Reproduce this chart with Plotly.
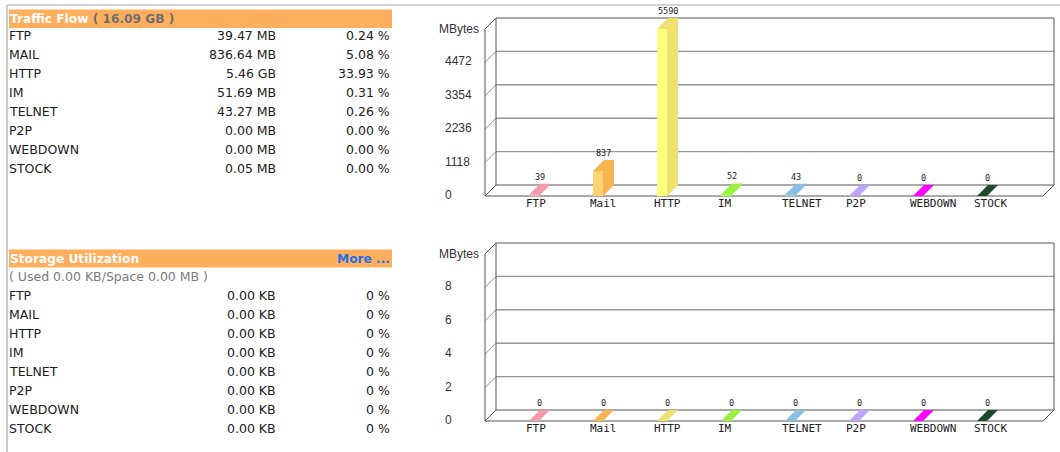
import plotly.graph_objects as go

# ---------------- data ----------------
categories = ["FTP", "Mail", "HTTP", "IM", "TELNET", "P2P", "WEBDOWN", "STOCK"]
row_names = ["FTP", "MAIL", "HTTP", "IM", "TELNET", "P2P", "WEBDOWN", "STOCK"]

traffic_total = "16.09 GB"
traffic_size = ["39.47 MB", "836.64 MB", "5.46 GB", "51.69 MB",
                "43.27 MB", "0.00 MB", "0.00 MB", "0.05 MB"]
traffic_share = ["0.24 %", "5.08 %", "33.93 %", "0.31 %",
                 "0.26 %", "0.00 %", "0.00 %", "0.00 %"]
traffic_mbytes = [39, 837, 5590, 52, 43, 0, 0, 0]
traffic_ticks = [0, 1118, 2236, 3354, 4472]
traffic_axis_top = 5590

storage_summary = "( Used 0.00 KB/Space 0.00 MB )"
storage_size = ["0.00 KB", "0.00 KB", "0.00 KB", "0.00 KB",
                "0.00 KB", "0.00 KB", "0.00 KB", "0.00 KB"]
storage_share = ["0 %", "0 %", "0 %", "0 %", "0 %", "0 %", "0 %", "0 %"]
storage_mbytes = [0, 0, 0, 0, 0, 0, 0, 0]
storage_ticks = [0, 2, 4, 6, 8]
storage_axis_top = 10

# ---------------- styling ----------------
FRONT_COLORS = ["#ffb8c6", "#ffd470", "#ffff80", "#b6ff6c",
                "#a8d4ee", "#d2bcff", "#ff40ff", "#2e6040"]
TOP_COLORS = ["#f59aab", "#f8b450", "#efe070", "#99f040",
              "#88c0e4", "#bfa3f8", "#ff00ff", "#1c4a2c"]

W, H = 1060, 452
CAT0_PX, CAT_STEP = 534, 64          # first category centre, spacing (px)
BAR_PX, DEPTH, PLOT_PX = 10, 11, 167  # bar width, 3-D depth, value height (px)
FRONT_LEFT_PX, BACK_RIGHT_PX = 485, 1054
PAD = 6

TEXT = "#202020"
AXIS_TEXT = "#333333"
GRID = "#959595"
FRAME = "#555555"
HEADER = "#ffae5e"

TABLE_FONT = "DejaVu Sans"
MONO = "DejaVu Sans Mono"
AXIS_FONT = "Liberation Sans"


def fx(px):
    return px / W


def fy(py):
    return 1 - py / H


fig = go.Figure()
shapes = []
annotations = []


def note(text, x, y, xref="paper", yref="paper", **kw):
    annotations.append(dict(text=text, x=x, y=y, xref=xref, yref=yref,
                            showarrow=False, **kw))


def seg(x0, y0, x1, y1, xref, yref, color, width=1):
    shapes.append(dict(type="line", x0=x0, y0=y0, x1=x1, y1=y1,
                       xref=xref, yref=yref, layer="below",
                       line=dict(color=color, width=width)))


def panel(n, floor_px, values, ticks, axis_top, label_px):
    xa = "x" if n == 1 else f"x{n}"
    ya = "y" if n == 1 else f"y{n}"

    def xd(px):
        return (px - CAT0_PX) / CAT_STEP

    def yd(py):
        return (floor_px - py) * axis_top / PLOT_PX

    dxu = DEPTH / CAT_STEP
    dyu = DEPTH * axis_top / PLOT_PX
    half = BAR_PX / CAT_STEP / 2
    xl = xd(FRONT_LEFT_PX)
    xr = xd(BACK_RIGHT_PX)
    top_px = floor_px - PLOT_PX - DEPTH - PAD

    fig.layout["xaxis" if n == 1 else f"xaxis{n}"] = dict(
        domain=[fx(FRONT_LEFT_PX - PAD), fx(BACK_RIGHT_PX + PAD)],
        range=[xd(FRONT_LEFT_PX - PAD), xd(BACK_RIGHT_PX + PAD)],
        visible=False, anchor=ya, fixedrange=True)
    fig.layout["yaxis" if n == 1 else f"yaxis{n}"] = dict(
        domain=[fy(floor_px + PAD), fy(top_px)],
        range=[yd(floor_px + PAD), yd(top_px)],
        visible=False, anchor=xa, fixedrange=True)

    # back-wall grid and left-wall diagonals
    for t in ticks[1:]:
        seg(xl + dxu, t + dyu, xr, t + dyu, xa, ya, GRID, 1.4)
        seg(xl, t, xl + dxu, t + dyu, xa, ya, GRID, 1)
    # box outline
    seg(xl, 0, xl, axis_top, xa, ya, FRAME)
    seg(xl, axis_top, xl + dxu, axis_top + dyu, xa, ya, FRAME)
    seg(xl, 0, xl + dxu, dyu, xa, ya, FRAME)
    seg(xl + dxu, dyu, xl + dxu, axis_top + dyu, xa, ya, FRAME)
    seg(xl + dxu, axis_top + dyu, xr, axis_top + dyu, xa, ya, FRAME)
    seg(xr, dyu, xr, axis_top + dyu, xa, ya, FRAME)
    seg(xl + dxu, dyu, xr, dyu, xa, ya, FRAME)
    seg(xl, 0, xr - dxu, 0, xa, ya, FRAME)
    seg(xr - dxu, 0, xr, dyu, xa, ya, FRAME)

    # top + side faces of each bar
    for i, v in enumerate(values):
        a, b = i - half, i + half
        fig.add_trace(go.Scatter(
            x=[a, a + dxu, b + dxu, b + dxu, b, b, a],
            y=[v, v + dyu, v + dyu, dyu, 0, v, v],
            mode="lines", fill="toself", fillcolor=TOP_COLORS[i],
            line=dict(width=0, color=TOP_COLORS[i]),
            xaxis=xa, yaxis=ya, hoverinfo="skip", showlegend=False))
        note(str(v), i + dxu / 2, v + dyu, xa, ya, yanchor="bottom",
             xanchor="center", yshift=0,
             font=dict(family=MONO, size=8.5, color=TEXT))
        note(categories[i], a - 5 / CAT_STEP, 0, xa, ya, xanchor="left",
             yanchor="middle", yshift=-(label_px - floor_px),
             font=dict(family=MONO, size=11, color=TEXT))

    # front faces
    fig.add_trace(go.Bar(
        x=list(range(len(values))), y=values, width=BAR_PX / CAT_STEP,
        marker=dict(color=FRONT_COLORS, line=dict(width=0)),
        xaxis=xa, yaxis=ya, hoverinfo="skip", showlegend=False))

    # value axis labels
    for t in ticks:
        note(str(t), fx(443), t, "paper", ya, xanchor="left",
             yanchor="middle", yshift=1,
             font=dict(family=AXIS_FONT, size=12, color=AXIS_TEXT))
    note("MBytes", fx(437), axis_top, "paper", ya, xanchor="left",
         yanchor="middle", yshift=0,
         font=dict(family=AXIS_FONT, size=12, color=AXIS_TEXT))


def table(header_top_px, header_bot_px, title_html, row0_px, sizes, shares,
          extra=None):
    shapes.append(dict(type="rect", xref="paper", yref="paper",
                       x0=fx(9), x1=fx(392), y0=fy(header_bot_px),
                       y1=fy(header_top_px), fillcolor=HEADER,
                       line=dict(width=0), layer="below"))
    mid = (header_top_px + header_bot_px) / 2
    note(title_html, fx(8), fy(mid), xanchor="left", yanchor="middle",
         font=dict(family=TABLE_FONT, size=12.2, color="#ffffff"))
    if extra:
        extra(mid)
    for i, name in enumerate(row_names):
        yy = fy(row0_px + 19 * i)
        f = dict(family=TABLE_FONT, size=12.5, color=TEXT)
        note(name, fx(7), yy, xanchor="left", yanchor="middle", font=f)
        note(sizes[i], fx(278), yy, xanchor="right", yanchor="middle", font=f)
        note(shares[i], fx(392), yy, xanchor="right", yanchor="middle", font=f)


# page frame
shapes.append(dict(type="line", xref="paper", yref="paper", x0=fx(7),
                   x1=1, y0=fy(5), y1=fy(5),
                   line=dict(color="#a8a8a8", width=1.2)))
shapes.append(dict(type="line", xref="paper", yref="paper", x0=fx(7),
                   x1=fx(7), y0=fy(5), y1=0,
                   line=dict(color="#a8a8a8", width=1.2)))

table(9.5, 28, f"<b>Traffic Flow <span style='color:#6e6e6e'>( {traffic_total} )</span></b>",
      35.8, traffic_size, traffic_share)


def more_link(mid):
    note("<b>More ...</b>", fx(392), fy(mid), xanchor="right",
         yanchor="middle", font=dict(family=TABLE_FONT, size=12.2, color="#1f70e8"))


table(249.5, 267.5, "<b>Storage Utilization</b>", 295.8, storage_size,
      storage_share, extra=more_link)
note(storage_summary, fx(7), fy(276), xanchor="left", yanchor="middle",
     font=dict(family=TABLE_FONT, size=12.5, color="#7a7a7a"))

panel(1, 196, traffic_mbytes, traffic_ticks, traffic_axis_top, 203)
panel(2, 421, storage_mbytes, storage_ticks, storage_axis_top, 428)

fig.update_layout(
    width=W, height=H, margin=dict(l=0, r=0, t=0, b=0),
    paper_bgcolor="#ffffff", plot_bgcolor="rgba(0,0,0,0)",
    showlegend=False, hovermode=False, barmode="overlay",
    shapes=shapes, annotations=annotations,
)

fig.write_html("out.html", config={"displayModeBar": False})
